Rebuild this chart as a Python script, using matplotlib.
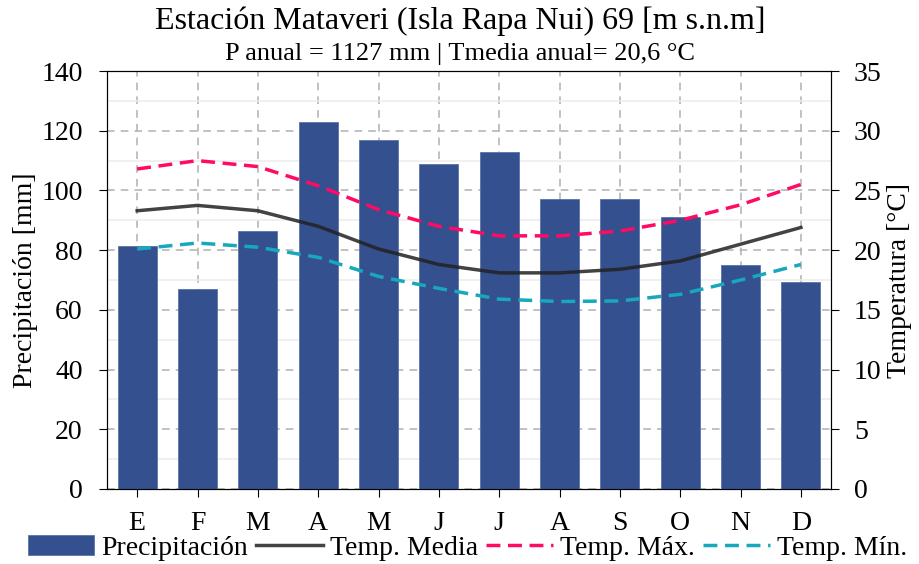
import matplotlib.pyplot as plt
from matplotlib.ticker import MultipleLocator
import numpy as np

plt.rcParams['font.family'] = ['Liberation Serif', 'DejaVu Serif']

meses = ["E", "F", "M", "A", "M", "J", "J", "A", "S", "O", "N", "D"]
precipitacion = [81.3, 67, 86.5, 123, 117, 109, 113, 97, 97.3, 91, 75, 69.5]
temp_media = [23.3, 23.75, 23.3, 22.0, 20.1, 18.8, 18.1, 18.1, 18.4, 19.1, 20.5, 21.9]
temp_max = [26.8, 27.5, 27.0, 25.4, 23.4, 22.0, 21.2, 21.2, 21.6, 22.5, 23.8, 25.5]
temp_min = [20.1, 20.6, 20.25, 19.4, 17.8, 16.8, 15.9, 15.7, 15.75, 16.3, 17.5, 18.8]

x = np.arange(len(meses))

fig = plt.figure(figsize=(9.2, 5.64), dpi=100)
ax = fig.add_axes([0.1163, 0.133, 0.787, 0.741])
ax2 = ax.twinx()

# bars on the left axis
bars = ax.bar(x, precipitacion, width=0.65, color='#34508f', edgecolor='#5a74a8',
              linewidth=0.6, label='Precipitación', zorder=3)

# temperature lines on the right axis
l1, = ax2.plot(x, temp_media, color='#222222', alpha=0.85, lw=2.5, label='Temp. Media')
l2, = ax2.plot(x, temp_max, color='#ff0a64', lw=2.5, ls=(0, (4, 2.2)), label='Temp. Máx.')
l3, = ax2.plot(x, temp_min, color='#17a8bd', lw=2.5, ls=(0, (4, 2.2)), label='Temp. Mín.')

ax.set_xlim(-0.5, 11.5)
ax.set_ylim(0, 140)
ax2.set_ylim(0, 35)
ax.set_xticks(x)
ax.set_xticklabels(meses)
ax.yaxis.set_major_locator(MultipleLocator(20))
ax.yaxis.set_minor_locator(MultipleLocator(10))
ax2.yaxis.set_major_locator(MultipleLocator(5))

ax.grid(True, which='major', ls=(0, (5, 4)), color='#b0b0b0', lw=1.1, zorder=0)
ax.grid(True, which='minor', axis='y', ls='-', color='#ececec', lw=1.1, zorder=0)
ax.set_axisbelow(True)

ax.tick_params(axis='both', which='major', labelsize=20, direction='out', length=5.5)
ax.tick_params(axis='y', which='minor', length=0)
ax.tick_params(axis='y', pad=12)
ax.tick_params(axis='x', pad=10)
ax2.tick_params(axis='y', labelsize=20, direction='out', length=5.5, pad=11)

ax.set_ylabel('Precipitación [mm]', fontsize=20, labelpad=2)
ax2.set_ylabel('Temperatura [°C]', fontsize=20, labelpad=4)

fig.text(0.5, 0.962, 'Estación Mataveri (Isla Rapa Nui) 69 [m s.n.m]', ha='center', va='center', fontsize=23)
fig.text(0.5, 0.905, 'P anual = 1127 mm | Tmedia anual= 20,6 °C', ha='center', va='center', fontsize=19)

fig.legend([bars, l1, l2, l3], ['Precipitación', 'Temp. Media', 'Temp. Máx.', 'Temp. Mín.'],
           loc='center', bbox_to_anchor=(0.508, 0.028), ncol=4, frameon=False,
           fontsize=20, handlelength=2.4, columnspacing=0.3, handletextpad=0.25,
           borderpad=0, borderaxespad=0)

fig.savefig('out.png', dpi=100)
